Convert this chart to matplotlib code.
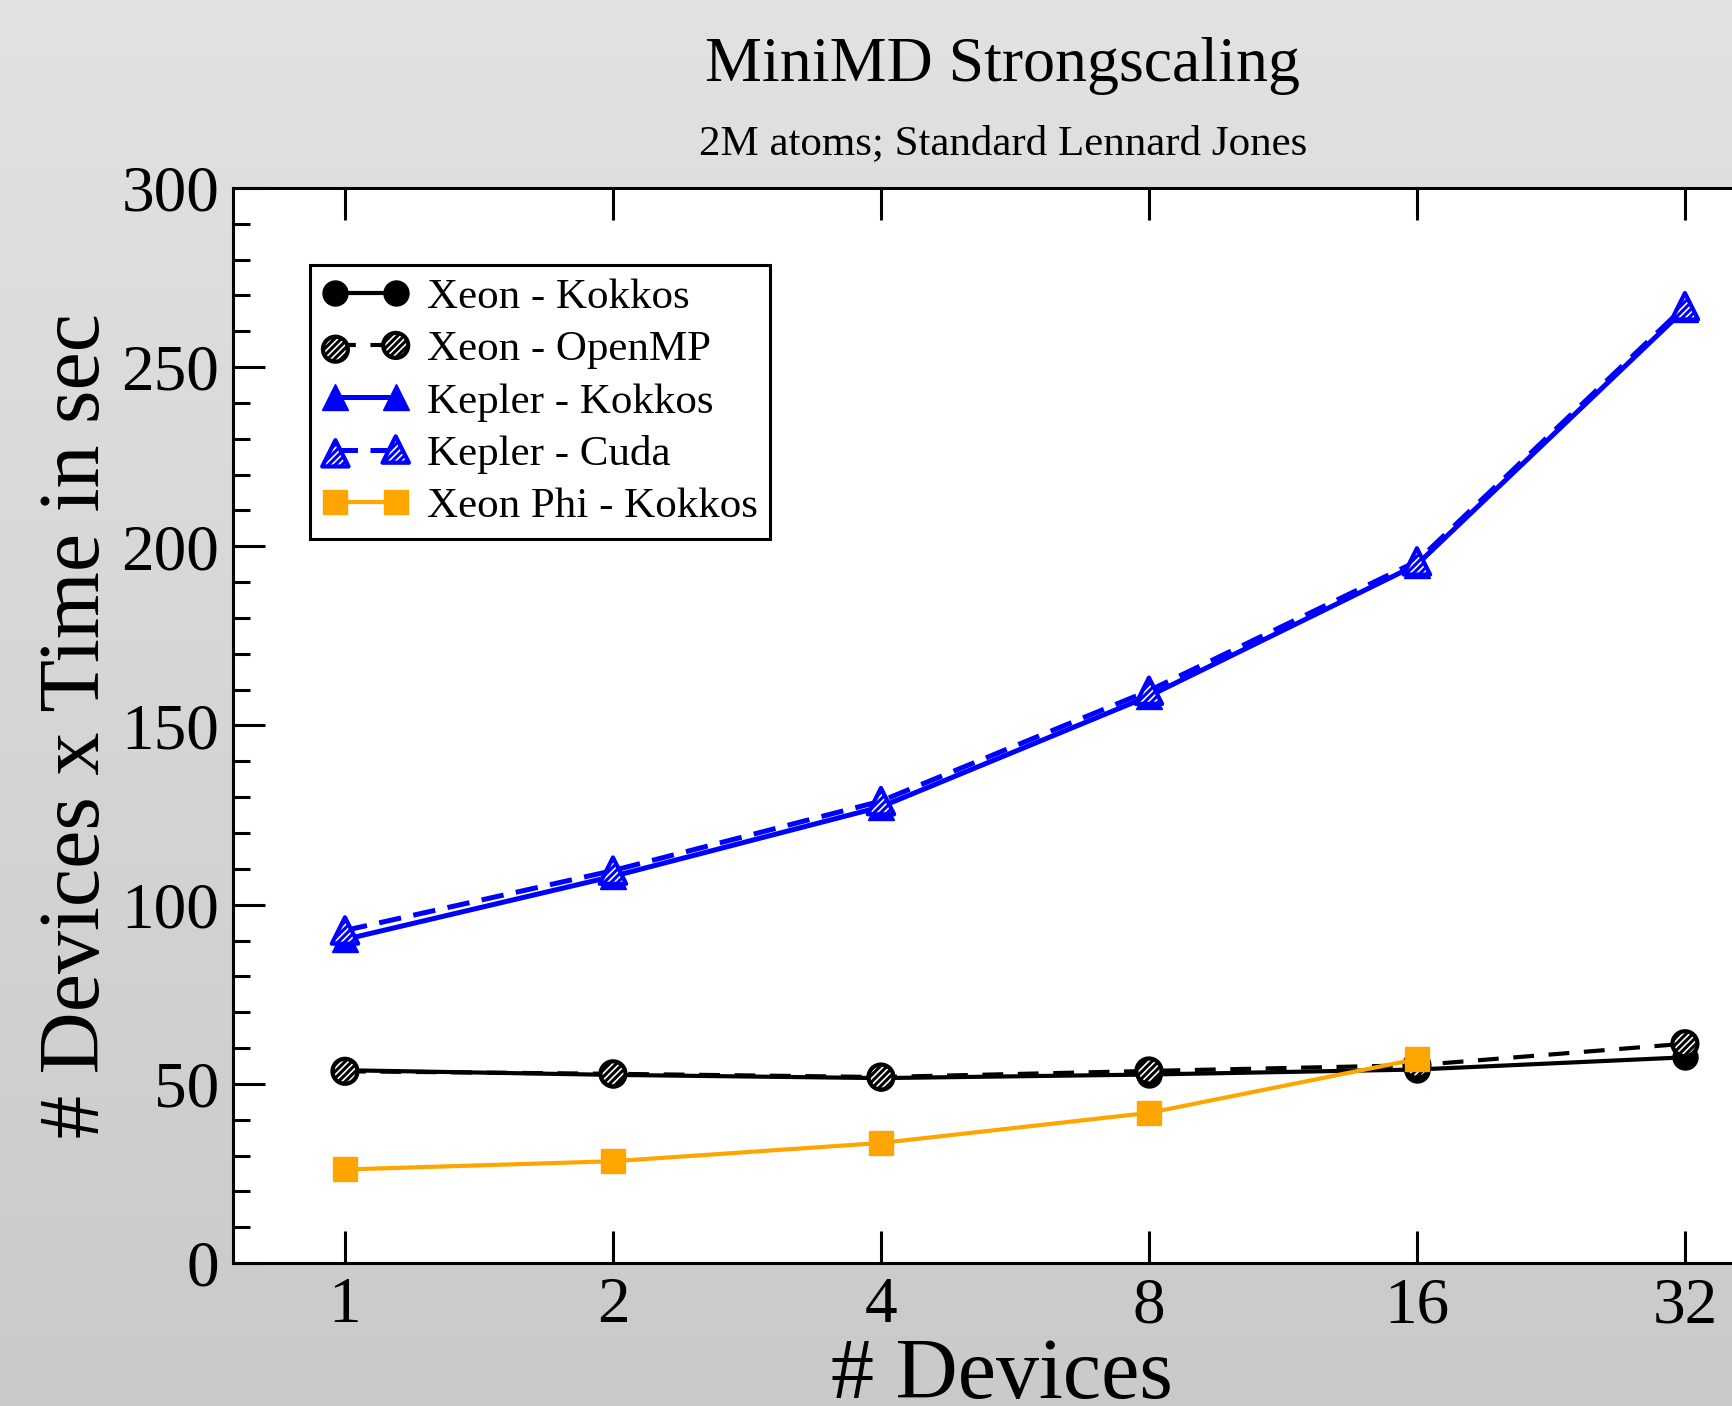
import numpy as np
import matplotlib
matplotlib.use("Agg")
import matplotlib.pyplot as plt
from matplotlib.ticker import MultipleLocator, NullLocator
from matplotlib.legend_handler import HandlerTuple

# data
devices = [1, 2, 4, 8, 16, 32]
xeon_kokkos = [53.8, 52.5, 51.6, 52.6, 54.0, 57.4]
xeon_openmp = [53.5, 52.8, 51.9, 53.6, 55.2, 61.2]
kepler_kokkos = [90.3, 107.9, 127.3, 158.2, 194.9, 266.2]
kepler_cuda = [92.8, 109.5, 128.9, 159.7, 195.8, 267.0]
phi_devices = [1, 2, 4, 8, 16]
phi_kokkos = [26.1, 28.4, 33.5, 41.9, 56.9]

title = "MiniMD Strongscaling"
subtitle = "2M atoms; Standard Lennard Jones"

plt.rcParams['font.family'] = ['Liberation Serif', 'DejaVu Serif']
plt.rcParams['hatch.linewidth'] = 2.2

fig = plt.figure(figsize=(17.32, 14.06), dpi=100)

# gray vertical gradient background
bg = fig.add_axes([0, 0, 1, 1], zorder=-10)
grad = np.linspace(0xe1, 0xc9, 256)[:, None] / 255.0
bg.imshow(np.repeat(grad, 2, axis=1), cmap='gray', vmin=0, vmax=1,
          aspect='auto', extent=[0, 1, 0, 1])
bg.set_axis_off()

ax = fig.add_axes([0.1345, 0.1017, 0.903, 0.7646])
ax.set_facecolor('white')

blue = '#0000ff'
orange = '#ffa500'

l1, = ax.plot(devices, xeon_kokkos, '-', color='black', lw=3,
              marker='o', ms=18, mfc='black', mec='black', zorder=3)
l2, = ax.plot(devices, xeon_openmp, '--', color='black', lw=3,
              dashes=(5, 3.5), zorder=3)
s2 = ax.scatter(devices, xeon_openmp, s=18**2, marker='o', facecolor='white',
                edgecolor='black', linewidth=3, hatch='/////', zorder=4)
l3, = ax.plot(devices, kepler_kokkos, '-', color=blue, lw=3.6,
              marker='^', ms=19, mfc=blue, mec=blue, zorder=5)
l4, = ax.plot(devices, kepler_cuda, '--', color=blue, lw=3.6,
              dashes=(4.5, 2.5), zorder=5)
s4 = ax.scatter(devices, kepler_cuda, s=19**2, marker='^', facecolor='white',
                edgecolor=blue, linewidth=3, hatch='/////', zorder=6)
l5, = ax.plot(phi_devices, phi_kokkos, '-', color=orange, lw=3,
              marker='s', ms=17, mfc=orange, mec=orange, zorder=7)

ax.set_xscale('log', base=2)
ax.set_xlim(2 ** -0.418, 2 ** 5.418)
ax.set_ylim(0, 300)
ax.set_xticks(devices, [str(d) for d in devices])
ax.xaxis.set_minor_locator(NullLocator())
ax.yaxis.set_major_locator(MultipleLocator(50))
ax.yaxis.set_minor_locator(MultipleLocator(10))

ax.tick_params(axis='both', which='major', direction='in', length=23,
               width=2.2, labelsize=47, top=True, right=True, pad=10)
ax.tick_params(axis='y', which='minor', direction='in', length=12,
               width=2.2, right=True)
for sp in ax.spines.values():
    sp.set_linewidth(2.2)

ax.set_xlabel("# Devices", fontsize=62, labelpad=1)
ax.xaxis.label.set_x(0.4917)
ax.set_ylabel("# Devices x Time in sec", fontsize=62, labelpad=2)

fig.text(0.579, 0.953, title, fontsize=46, ha='center', va='center')
fig.text(0.579, 0.898, subtitle, fontsize=31, ha='center', va='center')

handles = [l1, (l2, s2), l3, (l4, s4), l5]
labels = ["Xeon - Kokkos", "Xeon - OpenMP", "Kepler - Kokkos",
          "Kepler - Cuda", "Xeon Phi - Kokkos"]
leg = ax.legend(handles, labels, loc='upper left',
                bbox_to_anchor=(0.049, 0.928), borderaxespad=0,
                fontsize=31, frameon=True, fancybox=False,
                edgecolor='black', framealpha=1, numpoints=2,
                scatterpoints=2, handlelength=2.0, handletextpad=0.42,
                labelspacing=0.3, borderpad=0.3,
                handler_map={tuple: HandlerTuple(ndivide=1)})
leg.get_frame().set_linewidth(2.2)

fig.savefig("out.png", dpi=100)
